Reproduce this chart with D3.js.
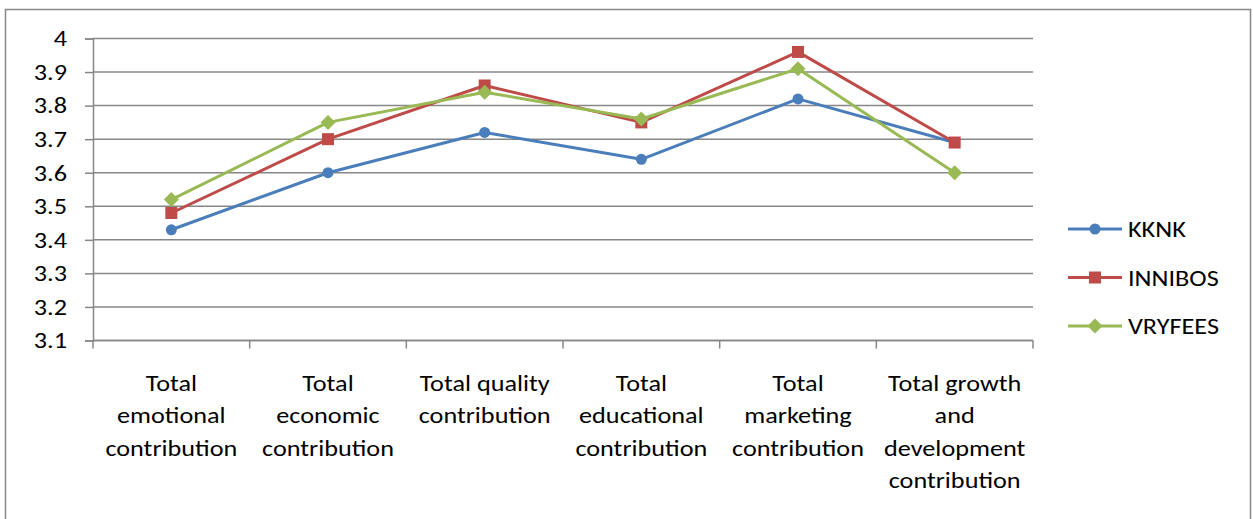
<!DOCTYPE html>
<html>
<head>
<meta charset="utf-8">
<script src="https://cdn.jsdelivr.net/npm/d3@7"></script>
<style>
  html, body { margin: 0; padding: 0; background: #fff; }
  svg { display: block; font-family: Carlito, Lato, "Noto Sans", sans-serif; }
</style>
</head>
<body>
<svg id="chart" width="1253" height="519"></svg>
<script>
// Category labels (line-broken as displayed)
const categories = [
  ["Total", "emotional", "contribution"],
  ["Total", "economic", "contribution"],
  ["Total quality", "contribution"],
  ["Total", "educational", "contribution"],
  ["Total", "marketing", "contribution"],
  ["Total growth", "and", "development", "contribution"]
];
const seriesNames = ["KKNK", "INNIBOS", "VRYFEES"];
const kknk    = [3.43, 3.60, 3.72, 3.64, 3.82, 3.69];
const innibos = [3.48, 3.70, 3.86, 3.75, 3.96, 3.69];
const vryfees = [3.52, 3.75, 3.84, 3.76, 3.91, 3.60];
const yTicks  = [3.1, 3.2, 3.3, 3.4, 3.5, 3.6, 3.7, 3.8, 3.9, 4.0];
const colors  = ["#4A7EBB", "#BE4B48", "#98B954"];
const markers = ["circle", "square", "diamond"];

const FONT_SIZE = 23;
const STRETCH = 1.14;   // horizontal stretch of the label glyphs

const svg = d3.select("#chart");

// outer chart frame
svg.append("rect")
  .attr("x", 5.5).attr("y", 9.5)
  .attr("width", 1245).attr("height", 530)
  .attr("fill", "none").attr("stroke", "#878787").attr("stroke-width", 1.5);

const plot = { left: 93, right: 1033, top: 38.5, bottom: 340.5 };

const x = d3.scaleBand()
  .domain(d3.range(categories.length))
  .range([plot.left, plot.right])
  .padding(0);
const y = d3.scaleLinear().domain([3.1, 4.0]).range([plot.bottom, plot.top]);

// horizontal gridlines
svg.append("g")
  .selectAll("line")
  .data(yTicks)
  .join("line")
  .attr("x1", plot.left).attr("x2", plot.right)
  .attr("y1", d => y(d)).attr("y2", d => y(d))
  .attr("stroke", "#878787").attr("stroke-width", 1.5);

// y axis
const labelOffset = 26;
const yAxis = svg.append("g")
  .attr("transform", `translate(${plot.left},0)`)
  .call(d3.axisLeft(y).tickValues(yTicks)
    .tickFormat(d => String(+d.toFixed(1)))
    .tickSize(8).tickPadding(labelOffset - 8));
yAxis.select(".domain").attr("stroke", "#878787").attr("stroke-width", 1.5);
yAxis.selectAll(".tick line").attr("stroke", "#878787").attr("stroke-width", 1.5);
yAxis.selectAll(".tick text")
  .attr("font-size", FONT_SIZE).attr("fill", "#000")
  .attr("font-family", "Carlito, Lato, 'Noto Sans', sans-serif")
  .attr("x", -labelOffset / STRETCH)
  .attr("transform", `scale(${STRETCH},1)`);

// x axis with ticks at category boundaries
const boundaries = d3.range(categories.length + 1).map(i => plot.left + i * x.bandwidth());
svg.append("line")
  .attr("x1", plot.left).attr("x2", plot.right)
  .attr("y1", plot.bottom).attr("y2", plot.bottom)
  .attr("stroke", "#878787").attr("stroke-width", 1.5);
svg.append("g")
  .selectAll("line")
  .data(boundaries)
  .join("line")
  .attr("x1", d => d).attr("x2", d => d)
  .attr("y1", plot.bottom).attr("y2", plot.bottom + 8)
  .attr("stroke", "#878787").attr("stroke-width", 1.5);

// category labels
const cx = i => x(i) + x.bandwidth() / 2;
categories.forEach((lines, i) => {
  const g = svg.append("g")
    .attr("transform", `translate(${cx(i)},391) scale(${STRETCH},1)`);
  const t = g.append("text")
    .attr("text-anchor", "middle")
    .attr("font-size", FONT_SIZE)
    .attr("fill", "#000");
  lines.forEach((ln, j) => {
    t.append("tspan").attr("x", 0).attr("y", j * 32.3).text(ln);
  });
});

const allSeries = [kknk, innibos, vryfees];

function drawMarker(g, type, color) {
  if (type === "circle") {
    g.append("circle").attr("r", 5.5).attr("fill", color);
  } else if (type === "square") {
    g.append("rect").attr("x", -6).attr("y", -6).attr("width", 12).attr("height", 12).attr("fill", color);
  } else {
    g.append("path").attr("d", "M0,-7.5L7.5,0L0,7.5L-7.5,0Z").attr("fill", color);
  }
}

// series lines and markers
const line = d3.line().x((d, i) => cx(i)).y(d => y(d));
allSeries.forEach((vals, s) => {
  const g = svg.append("g");
  g.append("path")
    .datum(vals)
    .attr("d", line)
    .attr("fill", "none")
    .attr("stroke", colors[s])
    .attr("stroke-width", 3)
    .attr("stroke-linejoin", "round");
  g.selectAll("g.m")
    .data(vals)
    .join("g")
    .attr("class", "m")
    .attr("transform", (d, i) => `translate(${cx(i)},${y(d)})`)
    .each(function () { drawMarker(d3.select(this), markers[s], colors[s]); });
});

// legend
const legend = svg.append("g");
seriesNames.forEach((name, s) => {
  const ly = 229 + s * 48.5;
  legend.append("line")
    .attr("x1", 1068).attr("x2", 1122)
    .attr("y1", ly).attr("y2", ly)
    .attr("stroke", colors[s]).attr("stroke-width", 3);
  const m = legend.append("g").attr("transform", `translate(1095,${ly})`);
  drawMarker(m, markers[s], colors[s]);
  legend.append("g")
    .attr("transform", `translate(1128,${ly + 8}) scale(${STRETCH},1)`)
    .append("text")
    .attr("font-size", FONT_SIZE).attr("fill", "#000")
    .text(name);
});
</script>
</body>
</html>
